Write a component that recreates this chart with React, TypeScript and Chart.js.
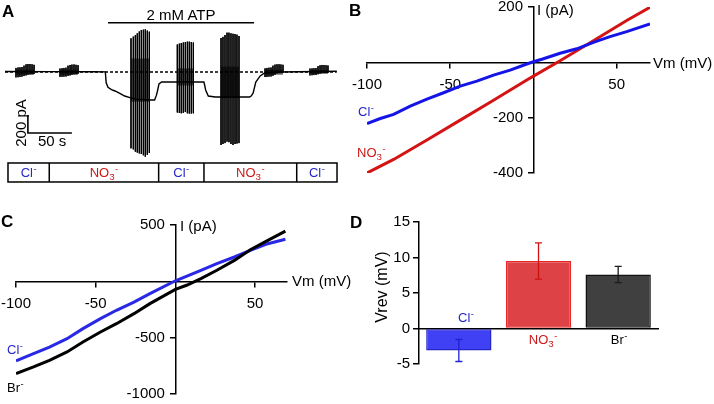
import React, { useEffect, useRef } from "react";
import { Chart, registerables } from "chart.js";

Chart.register(...registerables);

const FONT = '"Liberation Sans", Arial, Helvetica, sans-serif';
Chart.defaults.font.family = FONT;
Chart.defaults.color = "#000";

// ---------------- Panel A : current trace (t in s, I in pA) ----------------
const traceT = [0, 50, 100, 114, 115, 117, 121, 125, 131, 136, 142, 148, 165, 170, 172, 173, 175, 178, 226, 227, 228, 231, 239, 278, 280, 282, 285, 290, 295, 312, 377];
const traceI = [5, 4, 3, 2, -120, -170, -195, -211, -240, -267, -285, -300, -311, -311, -260, -222, -133, -111, -111, -150, -200, -267, -278, -278, -265, -233, -111, -44, -11, 0, 8];

const baselineT = [0, 377];
const baselineI = [0, 0];

// voltage-ramp bursts: spike times, positive peaks, negative peaks
const sb1T = [12.5, 14.8, 17.0, 19.3, 21.6, 23.9, 26.1, 28.4, 30.7, 33.0];
const sb1Top = [45, 50, 52, 55, 70, 85, 89, 89, 86, 80];
const sb1Bot = [-60, -58, -56, -52, -45, -38, -30, -25, -24, -22];

const sb2T = [62.5, 64.8, 67.0, 69.3, 71.6, 73.9, 76.1, 78.4, 80.7, 83.0];
const sb2Top = [38, 42, 45, 48, 70, 78, 82, 84, 80, 76];
const sb2Bot = [-55, -54, -52, -50, -44, -38, -30, -26, -24, -20];

const bb1T = [143.2, 145.8, 148.1, 150.3, 152.6, 154.9, 157.2, 159.4, 161.7, 164.0];
const bb1Top = [374, 393, 410, 430, 450, 467, 470, 474, 460, 448];
const bb1Bot = [-848, -860, -885, -895, -905, -911, -925, -941, -920, -900];

const bb2T = [195.8, 198.1, 200.3, 202.6, 204.9, 207.2, 209.4, 211.7, 214.0];
const bb2Top = [305, 315, 322, 328, 333, 337, 337, 333, 328];
const bb2Bot = [-450, -455, -459, -455, -445, -459, -462, -462, -459];

const bb3T = [245.5, 247.7, 250.0, 252.3, 254.5, 256.8, 259.1, 261.4, 263.6, 265.9];
const bb3Top = [378, 390, 410, 437, 437, 430, 425, 422, 415, 400];
const bb3Bot = [-811, -800, -790, -774, -780, -800, -811, -800, -795, -790];

const sb3T = [295.5, 297.7, 300.0, 302.3, 304.5, 306.8, 309.1, 311.4, 313.6, 315.9];
const sb3Top = [40, 45, 48, 50, 70, 82, 86, 86, 84, 80];
const sb3Bot = [-56, -55, -52, -50, -42, -30, -15, -12, -11, -10];

const sb4T = [346.6, 348.9, 351.1, 353.4, 355.7, 358.0, 360.2, 362.5, 364.8, 367.0];
const sb4Top = [38, 40, 42, 44, 65, 75, 78, 78, 76, 72];
const sb4Bot = [-38, -36, -34, -33, -25, -18, -12, -11, -10, -10];

// dense core of each burst (upper, lower), pA
const coreTop = [25, 25, 150, 40, 60, 25, 20];
const coreBot = [-30, -30, -330, -150, -290, -30, -20];

// ATP application bar
const atpT = [117, 283];
const atpLevel = 548;

// scale bar: 50 s, 200 pA
const scaleT0 = 26;
const scaleI0 = -678;
const scaleDt = 50;
const scaleDI = 200;

// solution changes (s) and ions in each period
const solT = [3.4, 50.3, 174.6, 226.1, 331.5, 377.3];
const solIons = ["Cl", "NO3", "Cl", "NO3", "Cl"];
const solBoxI = [-1011, -1222];

// ---------------- Panel B : I-V (mV, pA) ----------------
const bClV = [-100, -92, -84, -74, -64, -54, -44, -34, -24, -14, -4, 0, 6, 16, 26, 36, 46, 56, 70];
const bClI = [-221, -203, -188, -158, -133, -110, -86, -68, -46, -28, -6, 2, 13, 33, 49, 72, 93, 111, 139];
const bNo3V = [-100, -84, -64, -44, -24, -4, 0, 16, 36, 56, 70];
const bNo3I = [-400, -351, -281, -209, -137, -64, -50, 6, 78, 151, 199];
const bXTicks = [-100, -50, 50];
const bYTicks = [-400, -200, 200];

// ---------------- Panel C : I-V (mV, pA) ----------------
const cClV = [-100, -89, -79, -68, -58, -47, -37, -26, -16, 0, 16, 26, 37, 47, 58, 69];
const cClI = [-707, -642, -583, -509, -420, -331, -257, -184, -109, 5, 98, 157, 216, 275, 334, 373];
const cBrV = [-100, -89, -79, -68, -58, -47, -37, -26, -16, 0, 7, 16, 26, 37, 47, 58, 69];
const cBrI = [-819, -760, -701, -627, -539, -450, -376, -287, -198, -71, -35, 24, 98, 186, 281, 364, 446];
const cXTicks = [-100, -50, 50];
const cYTicks = [-1000, -500, 500];

// ---------------- Panel D : reversal potentials ----------------
const dIons = ["Cl", "NO3", "Br"];
const dMean = [-3.1, 9.5, 7.6];
const dSem = [1.55, 2.55, 1.15];

// ---------------- styles ----------------
const BLUE = "#1414e8";
const RED = "#d41414";
const TXT_BLUE = "#2626cc";
const TXT_RED = "#cc1818";

// panel A drawing window (value range covered by its canvas)
const A_W = 350;
const A_H = 190;
const A_X = [-5.682, 392.05];
const A_Y = [-1311.1, 800];
const aPx = (t: number) => ((t - A_X[0]) / (A_X[1] - A_X[0])) * A_W;

const xy = (xs: number[], ys: number[]) => xs.map((x, i) => ({ x, y: ys[i] }));
const spikes = (ts: number[], tops: number[], bots: number[]) => {
  const pts: { x: number; y: number | null }[] = [];
  ts.forEach((t, i) => {
    pts.push({ x: t, y: tops[i] }, { x: t, y: bots[i] }, { x: t, y: null });
  });
  return pts;
};

const bursts = [
  [sb1T, sb1Top, sb1Bot],
  [sb2T, sb2Top, sb2Bot],
  [bb1T, bb1Top, bb1Bot],
  [bb2T, bb2Top, bb2Bot],
  [bb3T, bb3Top, bb3Bot],
  [sb3T, sb3Top, sb3Bot],
  [sb4T, sb4Top, sb4Bot],
];

const lineDs = (data: any[], color: string, width: number, extra: any = {}) => ({
  data,
  borderColor: color,
  borderWidth: width,
  pointRadius: 0,
  fill: false,
  tension: 0,
  ...extra,
});

const traceExtras = {
  id: "traceExtras",
  beforeDatasetsDraw(chart: any) {
    const { ctx, scales } = chart;
    const x = scales.x;
    const y = scales.y;
    ctx.save();
    ctx.fillStyle = "rgba(0,0,0,0.6)";
    bursts.forEach((b, i) => {
      const ts = b[0];
      const x0 = x.getPixelForValue(ts[0]);
      const x1 = x.getPixelForValue(ts[ts.length - 1]);
      const y0 = y.getPixelForValue(coreTop[i]);
      const y1 = y.getPixelForValue(coreBot[i]);
      ctx.fillRect(x0, y0, x1 - x0, y1 - y0);
    });
    ctx.restore();
  },
  afterDatasetsDraw(chart: any) {
    const { ctx, scales } = chart;
    const x = scales.x;
    const y = scales.y;
    const top = y.getPixelForValue(solBoxI[0]);
    const bot = y.getPixelForValue(solBoxI[1]);
    ctx.save();
    ctx.strokeStyle = "#000";
    ctx.lineWidth = 1.5;
    const l = x.getPixelForValue(solT[0]);
    const r = x.getPixelForValue(solT[solT.length - 1]);
    ctx.strokeRect(l, top, r - l, bot - top);
    ctx.beginPath();
    for (let i = 1; i < solT.length - 1; i++) {
      const px = x.getPixelForValue(solT[i]);
      ctx.moveTo(px, top);
      ctx.lineTo(px, bot);
    }
    ctx.stroke();
    ctx.restore();
  },
};

const errorBars = {
  id: "errorBars",
  afterDatasetsDraw(chart: any) {
    const { ctx } = chart;
    const y = chart.scales.y;
    const meta = chart.getDatasetMeta(0);
    const cols = ["#2020d8", "#d01010", "#1a1a1a"];
    ctx.save();
    ctx.lineWidth = 1.3;
    meta.data.forEach((bar: any, i: number) => {
      const lo = y.getPixelForValue(dMean[i] - dSem[i]);
      const hi = y.getPixelForValue(dMean[i] + dSem[i]);
      const bx = bar.x;
      ctx.strokeStyle = cols[i];
      ctx.beginPath();
      ctx.moveTo(bx, lo);
      ctx.lineTo(bx, hi);
      ctx.moveTo(bx - 3.5, lo);
      ctx.lineTo(bx + 3.5, lo);
      ctx.moveTo(bx - 3.5, hi);
      ctx.lineTo(bx + 3.5, hi);
      ctx.stroke();
    });
    ctx.restore();
  },
};

const zeroFit = (s: any) => {
  if (s.isHorizontal()) s.height = 0;
  else s.width = 0;
  s.paddingLeft = 0;
  s.paddingRight = 0;
  s.paddingTop = 0;
  s.paddingBottom = 0;
};

// labels of an axis crossing at the origin: y labels get a small gap before the axis
const crossAxis = (min: number, max: number, ticks: number[], pos: any, horizontal: boolean) => ({
  type: "linear",
  min,
  max,
  position: pos,
  afterBuildTicks: (s: any) => {
    s.ticks = ticks.map((v) => ({ value: v }));
  },
  afterFit: zeroFit,
  grid: { display: true, drawOnChartArea: false, drawTicks: true, tickLength: 5, color: "#000", lineWidth: 1.5 },
  border: { display: true, color: "#000", width: 1.5 },
  ticks: {
    color: "#000",
    font: { size: 15, family: FONT },
    padding: 9,
    autoSkip: false,
    maxRotation: 0,
    callback: (v: any) => (horizontal ? String(v) : String(v) + "\u2002\u2009"),
  },
});

const baseOpts = (padding: any) => ({
  animation: false,
  responsive: false,
  maintainAspectRatio: false,
  events: [],
  layout: { padding },
  plugins: { legend: { display: false }, tooltip: { enabled: false }, title: { display: false } },
});

const configA = () => ({
  type: "line",
  data: {
    datasets: [
      lineDs(xy(baselineT, baselineI), "#000", 1.3, { borderDash: [3, 2] }),
      lineDs(xy(traceT, traceI), "#000", 1.4),
      ...bursts.map((b) => lineDs(spikes(b[0], b[1], b[2]), "#000", 1, { spanGaps: false })),
      lineDs(xy(atpT, [atpLevel, atpLevel]), "#000", 1.6),
      lineDs(
        [
          { x: scaleT0, y: scaleI0 + scaleDI },
          { x: scaleT0, y: scaleI0 },
          { x: scaleT0 + scaleDt, y: scaleI0 },
        ],
        "#000",
        1.6
      ),
    ],
  },
  options: {
    ...baseOpts(0),
    scales: {
      x: { type: "linear", display: false, min: A_X[0], max: A_X[1] },
      y: { type: "linear", display: false, min: A_Y[0], max: A_Y[1] },
    },
  },
  plugins: [traceExtras],
});

const configB = () => ({
  type: "line",
  data: {
    datasets: [
      lineDs(xy(bClV, bClI), BLUE, 3),
      lineDs(xy(bNo3V, bNo3I), RED, 3),
    ],
  },
  options: {
    ...baseOpts({ left: 22, right: 64, top: 7, bottom: 32 }),
    scales: {
      x: crossAxis(-100, 70, bXTicks, { y: 0 }, true),
      y: crossAxis(-400, 200, bYTicks, { x: 0 }, false),
    },
  },
});

const configC = () => ({
  type: "line",
  data: {
    datasets: [
      lineDs(xy(cBrV, cBrI), "#000", 3),
      lineDs(xy(cClV, cClI), "#2828e6", 3),
    ],
  },
  options: {
    ...baseOpts({ left: 16, right: 58, top: 20, bottom: 10 }),
    scales: {
      x: crossAxis(-100, 70, cXTicks, { y: 0 }, true),
      y: crossAxis(-1000, 500, cYTicks, { x: 0 }, false),
    },
  },
});

const configD = () => ({
  type: "bar",
  data: {
    labels: dIons,
    datasets: [
      {
        data: dMean,
        backgroundColor: ["#4040f4", "#dc4246", "#404040"],
        borderColor: ["#2626c8", "#e82828", "#111111"],
        borderWidth: 1.5,
        borderSkipped: false,
        barPercentage: 0.82,
        categoryPercentage: 1,
      },
    ],
  },
  options: {
    ...baseOpts({ left: 0, right: 56, top: 17, bottom: 40 }),
    scales: {
      x: {
        type: "category",
        position: { y: 0 },
        afterFit: zeroFit,
        grid: { display: false },
        ticks: { display: false },
        border: { display: true, color: "#000", width: 1.5 },
      },
      y: {
        type: "linear",
        min: -5,
        max: 15,
        position: "left",
        afterFit: (s: any) => {
          s.width = 74;
          s.paddingTop = 0;
          s.paddingBottom = 0;
        },
        grid: { display: true, drawOnChartArea: false, drawTicks: true, tickLength: 6, color: "#000", lineWidth: 1.5 },
        border: { display: true, color: "#000", width: 1.5 },
        ticks: { stepSize: 5, color: "#000", font: { size: 15, family: FONT }, padding: 3, callback: (v: any) => String(v) },
      },
    },
  },
  plugins: [errorBars],
});

function ChartBox(props: { left: number; top: number; width: number; height: number; config: () => any }) {
  const ref = useRef<HTMLCanvasElement | null>(null);
  useEffect(() => {
    const chart = new Chart(ref.current as HTMLCanvasElement, props.config());
    return () => chart.destroy();
  }, []);
  return (
    <canvas
      ref={ref}
      width={props.width}
      height={props.height}
      style={{ position: "absolute", left: props.left, top: props.top, width: props.width, height: props.height }}
    />
  );
}

function Ion({ ion }: { ion: string }) {
  const sup = (
    <span style={{ fontSize: "0.72em", position: "relative", top: "-0.5em", marginLeft: "0.05em" }}>-</span>
  );
  if (ion === "NO3") {
    return (
      <span>
        NO
        <span style={{ fontSize: "0.75em", position: "relative", top: "0.3em" }}>3</span>
        {sup}
      </span>
    );
  }
  return (
    <span>
      {ion}
      {sup}
    </span>
  );
}

function Txt(props: {
  x: number;
  y: number;
  size?: number;
  color?: string;
  bold?: boolean;
  center?: boolean;
  rotate?: boolean;
  children: any;
}) {
  const size = props.size || 15;
  const style: any = {
    position: "absolute",
    left: props.x,
    top: props.y,
    fontSize: size,
    lineHeight: 1,
    color: props.color || "#000",
    fontWeight: props.bold ? "bold" : "normal",
    whiteSpace: "nowrap",
    fontFamily: FONT,
  };
  if (props.rotate) style.transform = "translate(-50%, -50%) rotate(-90deg)";
  else if (props.center) style.transform = "translateX(-50%)";
  return <div style={style}>{props.children}</div>;
}

const ionColor = (ion: string) => (ion === "Cl" ? TXT_BLUE : ion === "NO3" ? TXT_RED : "#000");

export default function App() {
  const dCenters = [466, 543, 619];
  const dTops = [311, 333, 333];
  return (
    <div
      style={{
        position: "absolute",
        left: 0,
        top: 0,
        width: 714,
        height: 404,
        overflow: "hidden",
        background: "#fff",
        fontFamily: FONT,
      }}
    >
      <ChartBox left={0} top={0} width={A_W} height={A_H} config={configA} />
      <ChartBox left={345} top={0} width={369} height={205} config={configB} />
      <ChartBox left={0} top={205} width={345} height={199} config={configC} />
      <ChartBox left={345} top={205} width={369} height={199} config={configD} />

      {/* panel letters */}
      <Txt x={2} y={3} size={17} bold>A</Txt>
      <Txt x={349} y={2} size={17} bold>B</Txt>
      <Txt x={1} y={213} size={17} bold>C</Txt>
      <Txt x={350} y={214} size={17} bold>D</Txt>

      {/* panel A */}
      <Txt x={181} y={7} center>2 mM ATP</Txt>
      <Txt x={20} y={123} rotate>200 pA</Txt>
      <Txt x={38} y={133}>50 s</Txt>
      {solIons.map((ion, i) => (
        <Txt key={i} x={aPx((solT[i] + solT[i + 1]) / 2)} y={166} size={13} color={ionColor(ion)} center>
          <Ion ion={ion} />
        </Txt>
      ))}

      {/* panel B */}
      <Txt x={537} y={2}>I (pA)</Txt>
      <Txt x={653} y={55}>Vm (mV)</Txt>
      <Txt x={358} y={105} size={13} color={TXT_BLUE}><Ion ion="Cl" /></Txt>
      <Txt x={357} y={146} size={13} color={TXT_RED}><Ion ion="NO3" /></Txt>

      {/* panel C */}
      <Txt x={180} y={218}>I (pA)</Txt>
      <Txt x={292} y={273}>Vm (mV)</Txt>
      <Txt x={7} y={343} size={13} color={TXT_BLUE}><Ion ion="Cl" /></Txt>
      <Txt x={7} y={381} size={13}><Ion ion="Br" /></Txt>

      {/* panel D */}
      <Txt x={382} y={287} size={16} rotate>Vrev (mV)</Txt>
      {dIons.map((ion, i) => (
        <Txt key={ion} x={dCenters[i]} y={dTops[i]} size={13} color={ionColor(ion)} center>
          <Ion ion={ion} />
        </Txt>
      ))}
    </div>
  );
}
